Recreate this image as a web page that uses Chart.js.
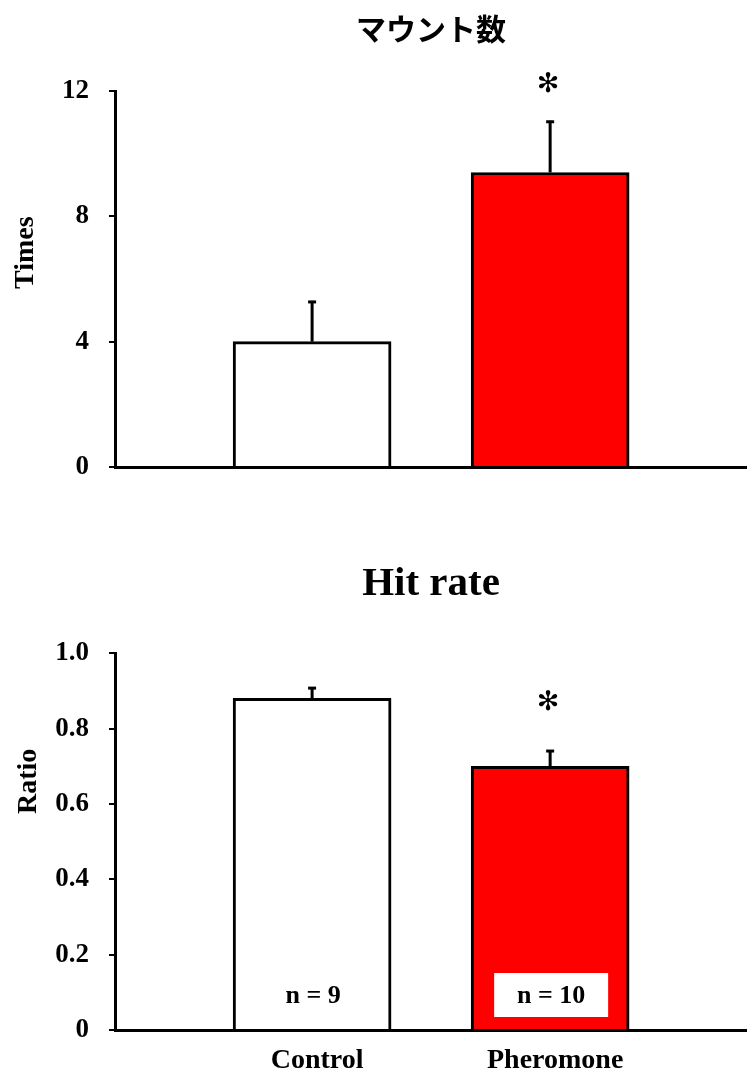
<!DOCTYPE html>
<html>
<head>
<meta charset="utf-8">
<script src="https://cdn.jsdelivr.net/npm/chart.js@4.4.1/dist/chart.umd.min.js"></script>
<style>
  html, body { margin: 0; padding: 0; background: #fff; }
  body { width: 747px; height: 1074px; position: relative; overflow: hidden; }
  .box { position: absolute; left: 0; width: 747px; }
  #b1 { top: 0; height: 490px; }
  #b2 { top: 490px; height: 584px; }
</style>
</head>
<body>
<div class="box" id="b1"><canvas id="c1"></canvas></div>
<div class="box" id="b2"><canvas id="c2"></canvas></div>
<script>
// ---- data ----
const categories = ['Control', 'Pheromone'];
const barColors = ['#ffffff', '#ff0000'];

const mountTitle = 'マウント数';
const mountValues = [4.0, 9.4];
const mountErrors = [1.3, 1.65];
const mountStars = ['', '✻'];
const mountStarY = [null, 12.2];
const mountTicks = [0, 4, 8, 12];

const hitTitle = 'Hit rate';
const hitValues = [0.88, 0.70];
const hitErrors = [0.03, 0.043];
const hitStars = ['', '✻'];
const hitStarY = [null, 0.868];
const hitTicks = [0, 0.2, 0.4, 0.6, 0.8, 1.0];
const nLabels = ['n = 9', 'n = 10'];

const serif = '"Liberation Serif", "Times New Roman", serif';

function makePlugin(cfg) {
  return {
    id: 'extras' + cfg.key,
    afterDatasetsDraw(chart) {
      const ctx = chart.ctx;
      const xs = chart.scales.x, ys = chart.scales.y;
      const ca = chart.chartArea;
      ctx.save();
      // error bars
      ctx.strokeStyle = '#000';
      ctx.lineWidth = 3;
      cfg.values.forEach((v, i) => {
        const x = xs.getPixelForValue(i + 1);
        const y0 = ys.getPixelForValue(v);
        const y1 = ys.getPixelForValue(v + cfg.errors[i]);
        ctx.beginPath();
        ctx.moveTo(x, y0);
        ctx.lineTo(x, y1);
        ctx.stroke();
        ctx.beginPath();
        ctx.moveTo(x - 4, y1 + 1);
        ctx.lineTo(x + 4, y1 + 1);
        ctx.stroke();
      });
      // significance stars
      ctx.fillStyle = '#000';
      ctx.textAlign = 'center';
      ctx.textBaseline = 'middle';
      ctx.font = 'bold 27px "DejaVu Sans"';
      cfg.stars.forEach((s, i) => {
        if (!s) return;
        ctx.fillText(s, xs.getPixelForValue(i + 1) - 2, ys.getPixelForValue(cfg.starY[i]));
      });
      // n labels
      if (cfg.nLabels) {
        ctx.font = 'bold 26px ' + serif;
        cfg.nLabels.forEach((t, i) => {
          const x = xs.getPixelForValue(i + 1);
          const y = ca.bottom - 35;
          ctx.fillStyle = '#fff';
          ctx.fillRect(x - 56, y - 22, 114, 44);
          ctx.fillStyle = '#000';
          ctx.fillText(t, x + 1, y + 1);
        });
      }
      // y axis title (rotated)
      ctx.font = 'bold 28px ' + serif;
      ctx.translate(cfg.yTitleX, ca.top + (ca.bottom - ca.top) * cfg.yTitleFrac);
      ctx.rotate(-Math.PI / 2);
      ctx.fillText(cfg.yTitle, 0, 0);
      ctx.restore();
    }
  };
}

function makeChart(id, cfg) {
  return new Chart(document.getElementById(id), {
    type: 'bar',
    data: {
      datasets: [{
        data: cfg.values.map((v, i) => ({ x: i + 1, y: v })),
        backgroundColor: barColors,
        borderColor: '#000',
        borderWidth: 3,
        borderSkipped: 'bottom',
        barThickness: 158
      }]
    },
    options: {
      responsive: true,
      maintainAspectRatio: false,
      animation: false,
      layout: { padding: { left: 0, right: 0, top: 0, bottom: 0 } },
      plugins: {
        legend: { display: false },
        tooltip: { enabled: false },
        title: {
          display: true,
          fullSize: false,
          text: cfg.title,
          color: '#000',
          font: cfg.titleFont,
          padding: cfg.titlePadding,
          align: 'center'
        }
      },
      scales: {
        x: {
          type: 'linear',
          offset: false,
          min: 0.172,
          max: 2.827,
          afterBuildTicks(scale) { scale.ticks = categories.map((c, i) => ({ value: i + 1 })); },
          afterFit(scale) { scale.height = cfg.xHeight; },
          grid: { display: false, drawTicks: false },
          border: { display: true, color: '#000', width: 3 },
          ticks: {
            display: cfg.showX,
            padding: 14,
            labelOffset: 5,
            color: '#000',
            font: { family: serif, size: 28, weight: 'bold' },
            callback: (v) => categories[v - 1] || ''
          }
        },
        y: {
          min: 0,
          max: cfg.max,
          afterBuildTicks(scale) { scale.ticks = cfg.ticks.map(v => ({ value: v })); },
          afterFit(scale) { scale.width = 115; scale.paddingTop = 0; scale.paddingBottom = 0; },
          grid: { display: true, drawOnChartArea: false, drawTicks: true, tickLength: 6, color: '#000', lineWidth: 2 },
          border: { display: true, color: '#000', width: 3 },
          ticks: {
            padding: 20,
            color: '#000',
            font: { family: serif, size: 27, weight: 'bold' },
            callback: cfg.tickFmt
          }
        }
      }
    },
    plugins: [makePlugin(cfg)]
  });
}

makeChart('c1', {
  key: 1,
  title: mountTitle,
  titleFont: { family: '"Noto Sans CJK JP", sans-serif', size: 30, weight: 'bold', lineHeight: 1.2 },
  titlePadding: { top: 11, bottom: 44 },
  values: mountValues, errors: mountErrors, stars: mountStars, starY: mountStarY,
  max: 12, ticks: mountTicks,
  tickFmt: (v) => String(v),
  xHeight: 23, showX: false,
  yTitle: 'Times', yTitleX: 26, yTitleFrac: 0.43
});

makeChart('c2', {
  key: 2,
  title: hitTitle,
  titleFont: { family: serif, size: 41, weight: 'bold', lineHeight: 1.2 },
  titlePadding: { top: 70, bottom: 44 },
  values: hitValues, errors: hitErrors, stars: hitStars, starY: hitStarY,
  max: 1.0, ticks: hitTicks,
  tickFmt: (v) => (v === 0 ? '0' : v.toFixed(1)),
  xHeight: 44, showX: true,
  nLabels: nLabels,
  yTitle: 'Ratio', yTitleX: 29, yTitleFrac: 0.34
});
</script>
</body>
</html>
